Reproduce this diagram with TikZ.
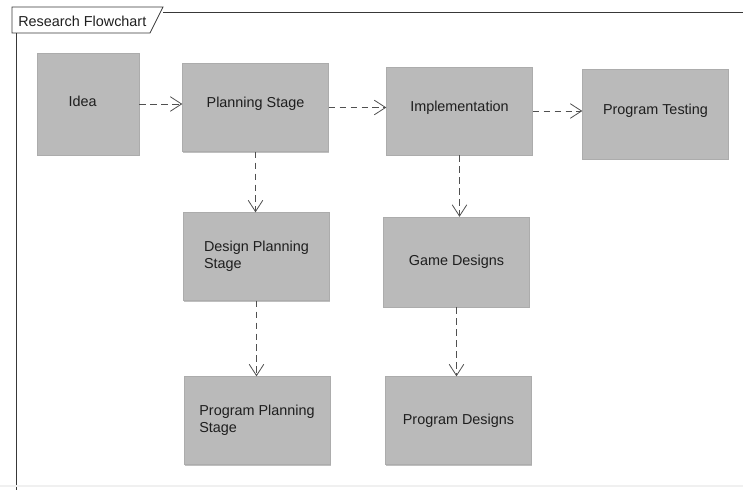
\documentclass[tikz,border=0pt]{standalone}
\usepackage{fontspec}
\setmainfont{Liberation Sans}
\usepackage{tikz}
\usetikzlibrary{arrows.meta, shadows}
\definecolor{box_gray}{RGB}{186,186,186}
\definecolor{edge_gray}{RGB}{172,172,172}
\definecolor{line_gray}{RGB}{80,80,80}
\definecolor{text_gray}{RGB}{30,30,30}
\tikzset{
  stage/.style={rectangle, fill=box_gray, draw=edge_gray, line width=0.3pt,
    minimum width=109.5pt, minimum height=66pt, inner sep=0pt, text=text_gray,
    font=\fontsize{10.8}{13}\selectfont,
    drop shadow={shadow xshift=0.6pt, shadow yshift=-0.9pt, fill=gray, opacity=0.5}},
  upper/.style={text depth=7.5pt},
  flow/.style={line_gray, line width=0.6pt, dash pattern=on 5pt off 3.2pt,
    -{Straight Barb[length=8.5pt, width=11pt]}}
}

\begin{document}
\begin{tikzpicture}[x=0.75pt, y=-0.75pt]
        \useasboundingbox (0,0) rectangle (743,490);
        % frame
        \draw[line_gray!70!black, line width=0.6pt] (12,7) -- (163,7) -- (150,33) -- (12,33) -- cycle;
        \draw[line_gray!70!black, line width=0.6pt] (163,12) -- (743,12);
        \draw[line_gray!70!black, line width=0.6pt] (16,33) -- (16,490);
        \draw[gray!12, line width=0.8pt] (0,486) -- (743,486);
        \node[anchor=west, inner sep=0pt, text=text_gray, font=\fontsize{10.8}{13}\selectfont] (title) at (18,21) {Research Flowchart};
        % stages
        \node[stage, minimum width=76.5pt, minimum height=76.5pt, text depth=4pt] (idea) at (88,104) {Idea\hspace*{8pt}};
        \node[stage, upper] (plan) at (255.5,107.5) {Planning Stage};
        \node[stage, upper] (impl) at (459.5,111) {Implementation};
        \node[stage, upper, minimum height=67.5pt] (test) at (655.5,114) {Program Testing};
        \node[stage, align=left] (design) at (256.5,256.5) {Design Planning\\Stage};
        \node[stage, minimum height=67.5pt] (game) at (456.5,262) {Game Designs};
        \node[stage, align=left] (progplan) at (257,420.5) {Program Planning\\Stage};
        \node[stage] (progdes) at (458.5,420.5) {Program Designs};
        % dependencies
        \draw[flow] (idea.east) -- (idea.east -| plan.west);
        \draw[flow] (plan.east) -- (plan.east -| impl.west);
        \draw[flow] (impl.east) -- (impl.east -| test.west);
        \draw[flow] (plan.south) -- (plan.south |- design.north);
        \draw[flow] (impl.south) -- (impl.south |- game.north);
        \draw[flow] (design.south) -- (design.south |- progplan.north);
        \draw[flow] (game.south) -- (game.south |- progdes.north);
    \end{tikzpicture}
\end{document}
